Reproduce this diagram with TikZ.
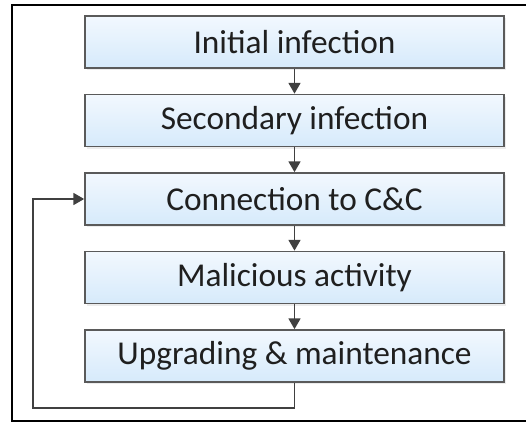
\documentclass[tikz,border=0pt]{standalone}
\usepackage{fontspec}
\setmainfont{Carlito}
\usetikzlibrary{arrows.meta,shadows}
\definecolor{boxedge}{HTML}{5A5A5A}
\definecolor{boxtop}{HTML}{F2F8FE}
\definecolor{boxbot}{HTML}{D6EAFB}
\definecolor{linkgray}{HTML}{404040}
\tikzset{
  stage/.style={draw=boxedge, line width=1.3pt, top color=boxtop, bottom color=boxbot,
    minimum width=419\pxu, minimum height=52\pxu, inner sep=0pt,
    font=\fontsize{25}{30}\selectfont, text=black!88,
    drop shadow={shadow xshift=1.5pt, shadow yshift=-1.5pt, fill=black!12, opacity=0.6}},
  flow/.style={draw=linkgray, line width=0.9pt,
    -{Triangle[length=8pt,width=9pt]}},
}
\newlength{\pxu}\setlength{\pxu}{0.75pt}
\begin{document}
\begin{tikzpicture}[x=0.75pt,y=-0.75pt]
  \useasboundingbox (0,0) rectangle (526,425);
  \clip (0,0) rectangle (526,425);
  % outer frame
  \draw[line width=2.2pt] (12,5) rectangle (530,421);
  % stages
  \node[stage] (s1) at (294.5,42) {Initial infection};
  \node[stage] (s2) at (294.5,120.5) {Secondary infection};
  \node[stage] (s3) at (294.5,199) {Connection to C\&C};
  \node[stage] (s4) at (294.5,277.5) {Malicious activity};
  \node[stage] (s5) at (294.5,356) {Upgrading \& maintenance};
  % sequence
  \draw[flow] (s1) -- (s2);
  \draw[flow] (s2) -- (s3);
  \draw[flow] (s3) -- (s4);
  \draw[flow] (s4) -- (s5);
  % loop back to the C&C stage
  \coordinate (lb) at (33,408);
  \draw[flow] (s5.south) -- (s5.south |- lb) -- (lb) |- (s3.west);
\end{tikzpicture}
\end{document}
